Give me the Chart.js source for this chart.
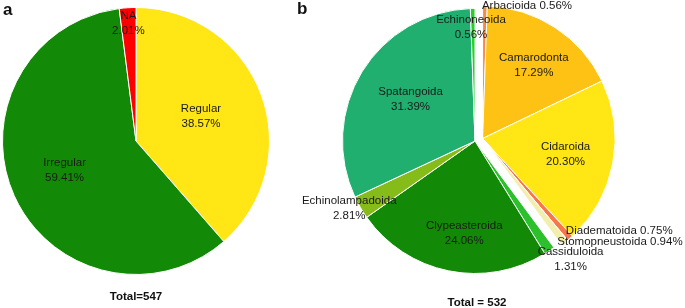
<!DOCTYPE html>
<html>
<head>
<meta charset="utf-8">
<script src="https://cdn.jsdelivr.net/npm/chart.js@4.4.1/dist/chart.umd.min.js"></script>
<style>
  body { margin:0; width:685px; height:308px; background:#fff; position:relative; overflow:hidden;
         font-family:"Liberation Sans", Arial, sans-serif; }
  canvas { position:absolute; top:0; }
  #pieA { left:0; }
  #pieB { left:280px; }
  .tag { position:absolute; font-weight:bold; font-size:17px; line-height:17px; color:#111; }
  .total { position:absolute; font-weight:bold; font-size:11.5px; line-height:12px; color:#111;
           transform:translateX(-50%); white-space:nowrap; }
</style>
</head>
<body>
<canvas id="pieA" width="280" height="308"></canvas>
<canvas id="pieB" width="405" height="308"></canvas>
<div class="tag" style="left:3px;top:1px">a</div>
<div class="tag" style="left:297px;top:0px">b</div>
<div class="total" id="totalA" style="left:136px;top:290px"></div>
<div class="total" id="totalB" style="left:477px;top:296px"></div>
<script>
// panel a: morphology
const groupsA = ['Regular', 'Irregular', 'NA'];
const pctA = [38.57, 59.41, 2.01];
const totalA = 547;

// panel b: orders (first five = regular echinoids)
const ordersB = ['Arbacioida', 'Camarodonta', 'Cidaroida', 'Diadematoida', 'Stomopneustoida',
                 'Cassiduloida', 'Clypeasteroida', 'Echinolampadoida', 'Spatangoida', 'Echinoneoida'];
const pctB = [0.56, 17.29, 20.30, 0.75, 0.94, 1.31, 24.06, 2.81, 31.39, 0.56];
const totalB = 532;

const coloursA = ['#FFE614', '#138A07', '#FF0000'];
const coloursB = ['#F58A4B', '#FDC214', '#FFE614', '#F7774D', '#F1EFAF',
                  '#2CC12C', '#138A07', '#86BC1A', '#20AF6E', '#26D026'];

document.getElementById('totalA').textContent = 'Total=' + totalA;
document.getElementById('totalB').textContent = 'Total = ' + totalB;

// draws arcs (one group pulled out a little) and the slice labels
function splitPie(cfg) {
  function shiftOf(arcs) {
    if (!cfg.pulled.length) return {x: 0, y: 0};
    const s = arcs[cfg.pulled[0]].startAngle;
    const e = arcs[cfg.pulled[cfg.pulled.length - 1]].endAngle;
    const m = (s + e) / 2;
    return {x: Math.cos(m) * cfg.gap, y: Math.sin(m) * cfg.gap};
  }
  return {
    id: 'splitPie',
    beforeDatasetDraw(chart, args) {
      const ctx = chart.ctx;
      const arcs = args.meta.data;
      const sh = shiftOf(arcs);
      arcs.forEach((arc, i) => {
        ctx.save();
        if (cfg.pulled.includes(i)) ctx.translate(sh.x, sh.y);
        arc.draw(ctx, chart.chartArea);
        ctx.restore();
      });
      return false;
    },
    afterDatasetsDraw(chart) {
      const ctx = chart.ctx;
      const arcs = chart.getDatasetMeta(0).data;
      const sh = shiftOf(arcs);
      const vals = chart.data.datasets[0].data;
      ctx.save();
      ctx.font = '11.5px "Liberation Sans", Arial, sans-serif';
      ctx.fillStyle = '#1a1a1a';
      ctx.textBaseline = 'middle';
      arcs.forEach((arc, i) => {
        const p = arc.getProps(['x', 'y', 'startAngle', 'endAngle', 'outerRadius'], true);
        const m = (p.startAngle + p.endAngle) / 2;
        const r = p.outerRadius * cfg.frac[i];
        const nd = cfg.nudge[i] || [0, 0];
        let x = p.x + Math.cos(m) * r + nd[0];
        let y = p.y + Math.sin(m) * r + nd[1];
        if (cfg.pulled.includes(i)) { x += sh.x; y += sh.y; }
        const name = chart.data.labels[i];
        const pct = vals[i].toFixed(2) + '%';
        ctx.textAlign = cfg.align[i];
        if (cfg.oneLine[i]) {
          ctx.fillText(name + ' ' + pct, x, y);
        } else {
          ctx.fillText(name, x, y - 7.5);
          ctx.fillText(pct, x, y + 7.5);
        }
      });
      ctx.restore();
    }
  };
}

function pieOptions(pad) {
  return {
    responsive: false,
    animation: false,
    events: [],
    layout: { padding: pad },
    plugins: { legend: { display: false }, tooltip: { enabled: false } }
  };
}

new Chart(document.getElementById('pieA'), {
  type: 'pie',
  data: {
    labels: groupsA,
    datasets: [{ data: pctA, backgroundColor: coloursA, borderColor: '#fff', borderWidth: 1 }]
  },
  options: pieOptions({ left: 2, top: 7, right: 10, bottom: 33 }),
  plugins: [splitPie({
    pulled: [], gap: 0,
    frac: [0.52, 0.57, 0.9],
    nudge: [[0, 0], [-2, -2], [0, 2]],
    align: ['center', 'center', 'center'],
    oneLine: [false, false, false]
  })]
});

new Chart(document.getElementById('pieB'), {
  type: 'pie',
  data: {
    labels: ordersB,
    datasets: [{ data: pctB, backgroundColor: coloursB, borderColor: '#fff', borderWidth: 1 }]
  },
  options: pieOptions({ left: 62, top: 8, right: 77, bottom: 34 }),
  plugins: [splitPie({
    pulled: [0, 1, 2, 3, 4], gap: 8,
    frac: [1.0, 0.68, 0.63, 0.93, 0.96, 1.15, 0.71, 1.08, 0.57, 0.86],
    nudge: [[-3, 0], [2, 2], [1, 0], [2, 0], [-4, 3], [10, -8], [8, 0], [-2, -4], [0, -2], [-2, 0]],
    align: ['left', 'center', 'center', 'left', 'left', 'center', 'center', 'center', 'center', 'center'],
    oneLine: [true, false, false, true, true, false, false, false, false, false]
  })]
});
</script>
</body>
</html>
